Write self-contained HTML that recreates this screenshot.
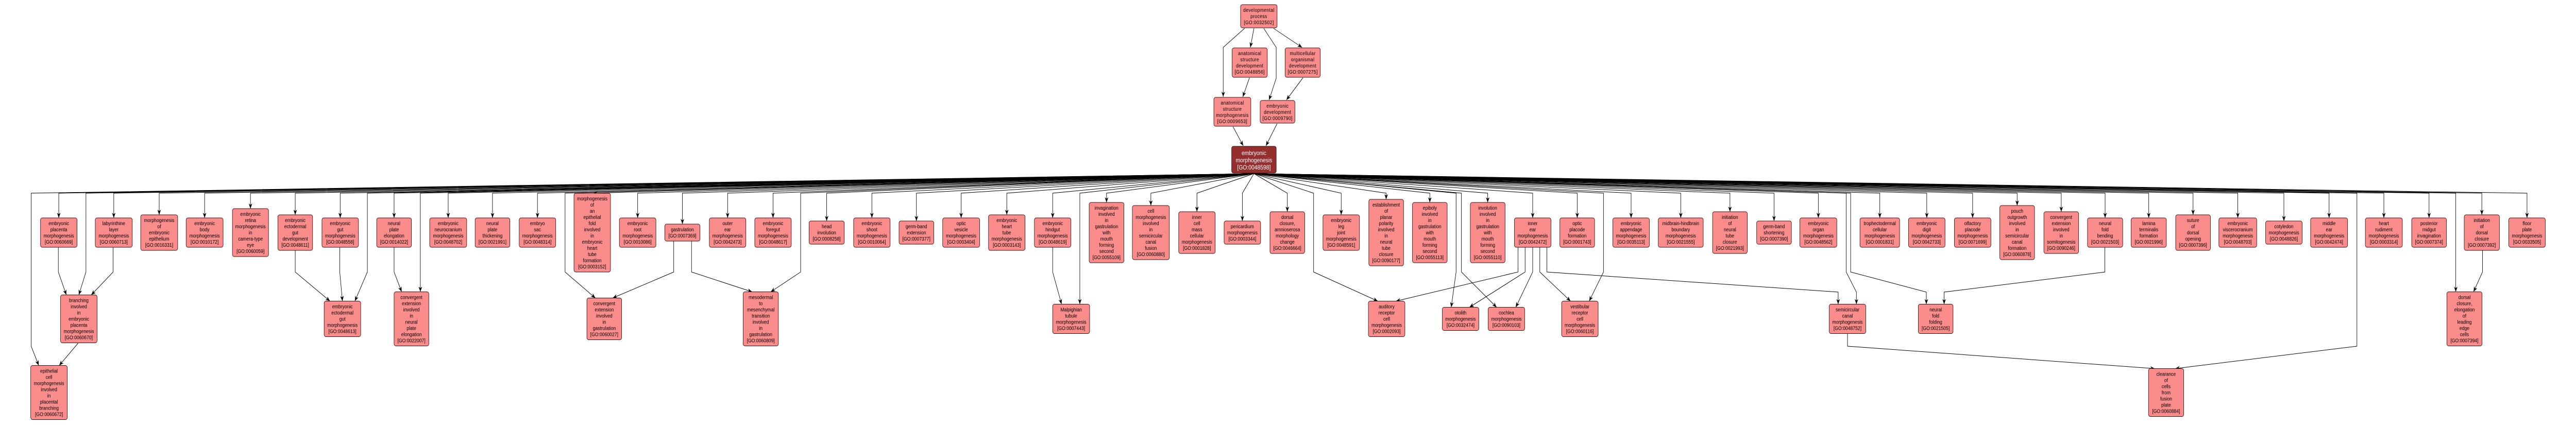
<!DOCTYPE html>
<html><head><meta charset="utf-8"><style>
html,body{margin:0;padding:0;background:#fff;overflow:hidden;width:100%;height:100%;}
svg{display:block;position:fixed;left:0;top:0;width:100vw;height:100vh;}
text{font-family:"Liberation Sans",sans-serif;font-size:10px;fill:#000;text-anchor:middle;}
.n rect{fill:#fa8c8c;stroke:#3a1010;stroke-width:1;}
.t text{letter-spacing:0.4px;}
.e{fill:none;stroke:#000;stroke-width:1;marker-end:url(#a);}
</style></head><body>
<svg viewBox="0 0 5785 825" preserveAspectRatio="none" xmlns="http://www.w3.org/2000/svg">
<defs><marker id="a" markerUnits="userSpaceOnUse" markerWidth="12" markerHeight="10" refX="10" refY="4" orient="auto"><path d="M0,0 L10,4 L0,8 L3,4 z" fill="#000"/></marker></defs>
<g>
<path class="e" d="M2795,55 L2747,92 L2747,188"/>
<path class="e" d="M2816,55 L2808,92"/>
<path class="e" d="M2838,55 L2866,92 L2866,152 L2850,194"/>
<path class="e" d="M2860,55 L2924,92"/>
<path class="e" d="M2806,151 L2791,188"/>
<path class="e" d="M2926,151 L2889,194"/>
<path class="e" d="M2769,246 L2792,283"/>
<path class="e" d="M2868,240 L2843,283"/>
<path class="e" d="M2816,337 L132,375 L132,423"/>
<path class="e" d="M2816,337 L255.5,375 L255.5,423"/>
<path class="e" d="M2816,337 L357.5,375 L357.5,417"/>
<path class="e" d="M2816,337 L459.5,375 L459.5,423"/>
<path class="e" d="M2816,337 L562.5,375 L562.5,405"/>
<path class="e" d="M2816,337 L663,375 L663,417"/>
<path class="e" d="M2816,337 L764,375 L764,423"/>
<path class="e" d="M2816,337 L885,375 L885,423"/>
<path class="e" d="M2816,337 L1006.5,375 L1006.5,423"/>
<path class="e" d="M2816,337 L1106,375 L1106,423"/>
<path class="e" d="M2816,337 L1207,375 L1207,423"/>
<path class="e" d="M2816,337 L1332,375"/>
<path class="e" d="M2816,337 L1432,375 L1432,423"/>
<path class="e" d="M2816,337 L1532.5,375 L1532.5,435"/>
<path class="e" d="M2816,337 L1634,375 L1634,423"/>
<path class="e" d="M2816,337 L1736,375 L1736,423"/>
<path class="e" d="M2816,337 L1856.5,375 L1856.5,429"/>
<path class="e" d="M2816,337 L1958,375 L1958,423"/>
<path class="e" d="M2816,337 L2058,375 L2058,429"/>
<path class="e" d="M2816,337 L2158.5,375 L2158.5,423"/>
<path class="e" d="M2816,337 L2261,375 L2261,417"/>
<path class="e" d="M2816,337 L2364,375 L2364,423"/>
<path class="e" d="M2816,337 L2485,375 L2485,393"/>
<path class="e" d="M2816,337 L2584.5,375 L2584.5,399"/>
<path class="e" d="M2816,337 L2688,375 L2688,411"/>
<path class="e" d="M2816,337 L2790,375 L2790,429"/>
<path class="e" d="M2816,337 L2891,375 L2891,411"/>
<path class="e" d="M2816,337 L3012,375 L3012,417"/>
<path class="e" d="M2816,337 L3113,375 L3113,387"/>
<path class="e" d="M2816,337 L3211,375 L3211,393"/>
<path class="e" d="M2816,337 L3341,375 L3341,393"/>
<path class="e" d="M2816,337 L3442,375 L3442,423"/>
<path class="e" d="M2816,337 L3542,375 L3542,423"/>
<path class="e" d="M2816,337 L3663,375 L3663,423"/>
<path class="e" d="M2816,337 L3774.5,375 L3774.5,423"/>
<path class="e" d="M2816,337 L3885,375 L3885,411"/>
<path class="e" d="M2816,337 L3984,375 L3984,429"/>
<path class="e" d="M2816,337 L4083.5,375 L4083.5,423"/>
<path class="e" d="M2816,337 L4221.5,375 L4221.5,423"/>
<path class="e" d="M2816,337 L4327,375 L4327,423"/>
<path class="e" d="M2816,337 L4430,375 L4430,423"/>
<path class="e" d="M2816,337 L4530,375 L4530,399"/>
<path class="e" d="M2816,337 L4629,375 L4629,411"/>
<path class="e" d="M2816,337 L4727.5,375 L4727.5,423"/>
<path class="e" d="M2816,337 L4825.5,375 L4825.5,423"/>
<path class="e" d="M2816,337 L4925,375 L4925,417"/>
<path class="e" d="M2816,337 L5025.5,375 L5025.5,423"/>
<path class="e" d="M2816,337 L5129,375 L5129,429"/>
<path class="e" d="M2816,337 L5230.5,375 L5230.5,423"/>
<path class="e" d="M2816,337 L5353.5,375 L5353.5,423"/>
<path class="e" d="M2816,337 L5455,375 L5455,423"/>
<path class="e" d="M2816,337 L5573.5,375 L5573.5,417"/>
<path class="e" d="M2816,337 L5675,375 L5675,423"/>
<path class="e" d="M2816,337 L70,375 L70,672 L87,709.5"/>
<path class="e" d="M2816,337 L193,375 L193,528 L177,572.5"/>
<path class="e" d="M2816,337 L825,375 L825,528 L797,584.5"/>
<path class="e" d="M2816,337 L944,375 L944,566.5"/>
<path class="e" d="M2816,337 L1269,375 L1269,528 L1337,578.5"/>
<path class="e" d="M2816,337 L1798,375 L1798,528 L1731,566.5"/>
<path class="e" d="M2816,337 L2425,375 L2425,590.5"/>
<path class="e" d="M2816,337 L2950,375 L2950,528 L3094,584.5"/>
<path class="e" d="M2816,337 L3270,375 L3270,528 L3259,596.5"/>
<path class="e" d="M2816,337 L3282,375 L3282,528 L3361,596.5"/>
<path class="e" d="M2816,337 L3601,375 L3601,528 L3569,584.5"/>
<path class="e" d="M2816,337 L4146,375 L4146,528 L4169,567 L4169,590.5"/>
<path class="e" d="M2816,337 L4156,375 L4156,528 L4326,567 L4326,590.5"/>
<path class="e" d="M2816,337 L5293,375 L5293,672 L4885,715.5"/>
<path class="e" d="M2816,337 L5515,375 L5515,566.5"/>
<path class="e" d="M131,480 L131,528 L149,572.5"/>
<path class="e" d="M254,480 L254,528 L205,572.5"/>
<path class="e" d="M176,665.5 L133,709.5"/>
<path class="e" d="M663,486 L663,528 L741,584.5"/>
<path class="e" d="M763,480 L763,528 L769,584.5"/>
<path class="e" d="M885,480 L885,528 L902,566.5"/>
<path class="e" d="M1513,468 L1513,528 L1376,578.5"/>
<path class="e" d="M1553,468 L1553,528 L1689,566.5"/>
<path class="e" d="M2364,480 L2364,528 L2384,590.5"/>
<path class="e" d="M3409,480 L3409,528 L3135,584.5"/>
<path class="e" d="M3425,480 L3425,528 L3300,596.5"/>
<path class="e" d="M3442,480 L3442,528 L3404,596.5"/>
<path class="e" d="M3458,480 L3458,528 L3527,584.5"/>
<path class="e" d="M3474,480 L3474,528 L4128,567 L4128,590.5"/>
<path class="e" d="M4727,480 L4727,528 L4366,567 L4366,590.5"/>
<path class="e" d="M4149,647.5 L4149,672 L4839,715.5"/>
<path class="e" d="M5575,486 L5575,528 L5555,566.5"/>
</g>

<g class="n t" transform="translate(2827,9)"><rect x="-41" y="0" width="82" height="45" rx="4"/><text y="14">developmental</text><text y="26">process</text><text y="38">[GO:0032502]</text></g>
<g class="n t" transform="translate(2806.5,93)"><rect x="-39.5" y="0" width="79" height="57" rx="4"/><text y="14">anatomical</text><text y="26">structure</text><text y="38">development</text><text y="50">[GO:0048856]</text></g>
<g class="n t" transform="translate(2925.5,93)"><rect x="-39.5" y="0" width="79" height="57" rx="4"/><text y="14">multicellular</text><text y="26">organismal</text><text y="38">development</text><text y="50">[GO:0007275]</text></g>
<g class="n t" transform="translate(2767.5,189)"><rect x="-41.5" y="0" width="83" height="56" rx="4"/><text y="14">anatomical</text><text y="26">structure</text><text y="38">morphogenesis</text><text y="50">[GO:0009653]</text></g>
<g class="n t" transform="translate(2869,195)"><rect x="-39" y="0" width="78" height="44" rx="4"/><text y="14">embryonic</text><text y="26">development</text><text y="38">[GO:0009790]</text></g>
<g transform="translate(2816,284)"><rect x="-50" y="0" width="100" height="52" rx="4" fill="#952e2e" stroke="#3a1010"/><text y="17" style="fill:#fff;font-size:12px">embryonic</text><text y="31" style="fill:#fff;font-size:12px">morphogenesis</text><text y="45" style="fill:#fff;font-size:12px">[GO:0048598]</text></g>

<g class="n" transform="translate(132,423)"><rect x="-41" width="82" height="57" rx="4"/><text y="14">embryonic</text><text y="26">placenta</text><text y="38">morphogenesis</text><text y="50">[GO:0060669]</text></g>
<g class="n" transform="translate(255.5,423)"><rect x="-41.5" width="83" height="57" rx="4"/><text y="14">labyrinthine</text><text y="26">layer</text><text y="38">morphogenesis</text><text y="50">[GO:0060713]</text></g>
<g class="n" transform="translate(357.5,417)"><rect x="-41.5" width="83" height="69" rx="4"/><text y="14">morphogenesis</text><text y="26">of</text><text y="38">embryonic</text><text y="50">epithelium</text><text y="62">[GO:0016331]</text></g>
<g class="n" transform="translate(459.5,423)"><rect x="-41.5" width="83" height="57" rx="4"/><text y="14">embryonic</text><text y="26">body</text><text y="38">morphogenesis</text><text y="50">[GO:0010172]</text></g>
<g class="n" transform="translate(562.5,405)"><rect x="-40.5" width="81" height="93" rx="4"/><text y="14">embryonic</text><text y="26">retina</text><text y="38">morphogenesis</text><text y="50">in</text><text y="62">camera-type</text><text y="74">eye</text><text y="86">[GO:0060059]</text></g>
<g class="n" transform="translate(663,417)"><rect x="-39" width="78" height="69" rx="4"/><text y="14">embryonic</text><text y="26">ectodermal</text><text y="38">gut</text><text y="50">development</text><text y="62">[GO:0048611]</text></g>
<g class="n" transform="translate(764,423)"><rect x="-41" width="82" height="57" rx="4"/><text y="14">embryonic</text><text y="26">gut</text><text y="38">morphogenesis</text><text y="50">[GO:0048558]</text></g>
<g class="n" transform="translate(885,423)"><rect x="-39" width="78" height="57" rx="4"/><text y="14">neural</text><text y="26">plate</text><text y="38">elongation</text><text y="50">[GO:0014022]</text></g>
<g class="n" transform="translate(1006.5,423)"><rect x="-41.5" width="83" height="57" rx="4"/><text y="14">embryonic</text><text y="26">neurocranium</text><text y="38">morphogenesis</text><text y="50">[GO:0048702]</text></g>
<g class="n" transform="translate(1106,423)"><rect x="-39" width="78" height="57" rx="4"/><text y="14">neural</text><text y="26">plate</text><text y="38">thickening</text><text y="50">[GO:0021991]</text></g>
<g class="n" transform="translate(1207,423)"><rect x="-41" width="82" height="57" rx="4"/><text y="14">embryo</text><text y="26">sac</text><text y="38">morphogenesis</text><text y="50">[GO:0048314]</text></g>
<g class="n" transform="translate(1330,375)"><rect x="-41" width="82" height="153" rx="4"/><text y="14">morphogenesis</text><text y="26">of</text><text y="38">an</text><text y="50">epithelial</text><text y="62">fold</text><text y="74">involved</text><text y="86">in</text><text y="98">embryonic</text><text y="110">heart</text><text y="122">tube</text><text y="134">formation</text><text y="146">[GO:0003152]</text></g>
<g class="n" transform="translate(1432,423)"><rect x="-41" width="82" height="57" rx="4"/><text y="14">embryonic</text><text y="26">root</text><text y="38">morphogenesis</text><text y="50">[GO:0010086]</text></g>
<g class="n" transform="translate(1532.5,435)"><rect x="-39.5" width="79" height="33" rx="4"/><text y="14">gastrulation</text><text y="26">[GO:0007369]</text></g>
<g class="n" transform="translate(1634,423)"><rect x="-41" width="82" height="57" rx="4"/><text y="14">outer</text><text y="26">ear</text><text y="38">morphogenesis</text><text y="50">[GO:0042473]</text></g>
<g class="n" transform="translate(1736,423)"><rect x="-41" width="82" height="57" rx="4"/><text y="14">embryonic</text><text y="26">foregut</text><text y="38">morphogenesis</text><text y="50">[GO:0048617]</text></g>
<g class="n" transform="translate(1856.5,429)"><rect x="-39.5" width="79" height="45" rx="4"/><text y="14">head</text><text y="26">involution</text><text y="38">[GO:0008258]</text></g>
<g class="n" transform="translate(1958,423)"><rect x="-41" width="82" height="57" rx="4"/><text y="14">embryonic</text><text y="26">shoot</text><text y="38">morphogenesis</text><text y="50">[GO:0010064]</text></g>
<g class="n" transform="translate(2058,429)"><rect x="-39" width="78" height="45" rx="4"/><text y="14">germ-band</text><text y="26">extension</text><text y="38">[GO:0007377]</text></g>
<g class="n" transform="translate(2158.5,423)"><rect x="-41.5" width="83" height="57" rx="4"/><text y="14">optic</text><text y="26">vesicle</text><text y="38">morphogenesis</text><text y="50">[GO:0003404]</text></g>
<g class="n" transform="translate(2261,417)"><rect x="-41" width="82" height="69" rx="4"/><text y="14">embryonic</text><text y="26">heart</text><text y="38">tube</text><text y="50">morphogenesis</text><text y="62">[GO:0003143]</text></g>
<g class="n" transform="translate(2364,423)"><rect x="-41" width="82" height="57" rx="4"/><text y="14">embryonic</text><text y="26">hindgut</text><text y="38">morphogenesis</text><text y="50">[GO:0048619]</text></g>
<g class="n" transform="translate(2485,393)"><rect x="-39" width="78" height="117" rx="4"/><text y="14">invagination</text><text y="26">involved</text><text y="38">in</text><text y="50">gastrulation</text><text y="62">with</text><text y="74">mouth</text><text y="86">forming</text><text y="98">second</text><text y="110">[GO:0055109]</text></g>
<g class="n" transform="translate(2584.5,399)"><rect x="-41.5" width="83" height="105" rx="4"/><text y="14">cell</text><text y="26">morphogenesis</text><text y="38">involved</text><text y="50">in</text><text y="62">semicircular</text><text y="74">canal</text><text y="86">fusion</text><text y="98">[GO:0060880]</text></g>
<g class="n" transform="translate(2688,411)"><rect x="-41" width="82" height="81" rx="4"/><text y="14">inner</text><text y="26">cell</text><text y="38">mass</text><text y="50">cellular</text><text y="62">morphogenesis</text><text y="74">[GO:0001828]</text></g>
<g class="n" transform="translate(2790,429)"><rect x="-41" width="82" height="45" rx="4"/><text y="14">pericardium</text><text y="26">morphogenesis</text><text y="38">[GO:0003344]</text></g>
<g class="n" transform="translate(2891,411)"><rect x="-39" width="78" height="81" rx="4"/><text y="14">dorsal</text><text y="26">closure,</text><text y="38">amnioserosa</text><text y="50">morphology</text><text y="62">change</text><text y="74">[GO:0046664]</text></g>
<g class="n" transform="translate(3012,417)"><rect x="-41" width="82" height="69" rx="4"/><text y="14">embryonic</text><text y="26">leg</text><text y="38">joint</text><text y="50">morphogenesis</text><text y="62">[GO:0048591]</text></g>
<g class="n" transform="translate(3113,387)"><rect x="-39" width="78" height="129" rx="4"/><text y="14">establishment</text><text y="26">of</text><text y="38">planar</text><text y="50">polarity</text><text y="62">involved</text><text y="74">in</text><text y="86">neural</text><text y="98">tube</text><text y="110">closure</text><text y="122">[GO:0090177]</text></g>
<g class="n" transform="translate(3211,393)"><rect x="-39" width="78" height="117" rx="4"/><text y="14">epiboly</text><text y="26">involved</text><text y="38">in</text><text y="50">gastrulation</text><text y="62">with</text><text y="74">mouth</text><text y="86">forming</text><text y="98">second</text><text y="110">[GO:0055113]</text></g>
<g class="n" transform="translate(3341,393)"><rect x="-39" width="78" height="117" rx="4"/><text y="14">involution</text><text y="26">involved</text><text y="38">in</text><text y="50">gastrulation</text><text y="62">with</text><text y="74">mouth</text><text y="86">forming</text><text y="98">second</text><text y="110">[GO:0055110]</text></g>
<g class="n" transform="translate(3442,423)"><rect x="-41" width="82" height="57" rx="4"/><text y="14">inner</text><text y="26">ear</text><text y="38">morphogenesis</text><text y="50">[GO:0042472]</text></g>
<g class="n" transform="translate(3542,423)"><rect x="-39" width="78" height="57" rx="4"/><text y="14">optic</text><text y="26">placode</text><text y="38">formation</text><text y="50">[GO:0001743]</text></g>
<g class="n" transform="translate(3663,423)"><rect x="-41" width="82" height="57" rx="4"/><text y="14">embryonic</text><text y="26">appendage</text><text y="38">morphogenesis</text><text y="50">[GO:0035113]</text></g>
<g class="n" transform="translate(3774.5,423)"><rect x="-50.5" width="101" height="57" rx="4"/><text y="14">midbrain-hindbrain</text><text y="26">boundary</text><text y="38">morphogenesis</text><text y="50">[GO:0021555]</text></g>
<g class="n" transform="translate(3885,411)"><rect x="-39" width="78" height="81" rx="4"/><text y="14">initiation</text><text y="26">of</text><text y="38">neural</text><text y="50">tube</text><text y="62">closure</text><text y="74">[GO:0021993]</text></g>
<g class="n" transform="translate(3984,429)"><rect x="-39" width="78" height="45" rx="4"/><text y="14">germ-band</text><text y="26">shortening</text><text y="38">[GO:0007390]</text></g>
<g class="n" transform="translate(4083.5,423)"><rect x="-41.5" width="83" height="57" rx="4"/><text y="14">embryonic</text><text y="26">organ</text><text y="38">morphogenesis</text><text y="50">[GO:0048562]</text></g>
<g class="n" transform="translate(4221.5,423)"><rect x="-44.5" width="89" height="57" rx="4"/><text y="14">trophectodermal</text><text y="26">cellular</text><text y="38">morphogenesis</text><text y="50">[GO:0001831]</text></g>
<g class="n" transform="translate(4327,423)"><rect x="-41" width="82" height="57" rx="4"/><text y="14">embryonic</text><text y="26">digit</text><text y="38">morphogenesis</text><text y="50">[GO:0042733]</text></g>
<g class="n" transform="translate(4430,423)"><rect x="-41" width="82" height="57" rx="4"/><text y="14">olfactory</text><text y="26">placode</text><text y="38">morphogenesis</text><text y="50">[GO:0071699]</text></g>
<g class="n" transform="translate(4530,399)"><rect x="-39" width="78" height="105" rx="4"/><text y="14">pouch</text><text y="26">outgrowth</text><text y="38">involved</text><text y="50">in</text><text y="62">semicircular</text><text y="74">canal</text><text y="86">formation</text><text y="98">[GO:0060878]</text></g>
<g class="n" transform="translate(4629,411)"><rect x="-39" width="78" height="81" rx="4"/><text y="14">convergent</text><text y="26">extension</text><text y="38">involved</text><text y="50">in</text><text y="62">somitogenesis</text><text y="74">[GO:0090246]</text></g>
<g class="n" transform="translate(4727.5,423)"><rect x="-39.5" width="79" height="57" rx="4"/><text y="14">neural</text><text y="26">fold</text><text y="38">bending</text><text y="50">[GO:0021503]</text></g>
<g class="n" transform="translate(4825.5,423)"><rect x="-39.5" width="79" height="57" rx="4"/><text y="14">lamina</text><text y="26">terminalis</text><text y="38">formation</text><text y="50">[GO:0021996]</text></g>
<g class="n" transform="translate(4925,417)"><rect x="-39" width="78" height="69" rx="4"/><text y="14">suture</text><text y="26">of</text><text y="38">dorsal</text><text y="50">opening</text><text y="62">[GO:0007396]</text></g>
<g class="n" transform="translate(5025.5,423)"><rect x="-42.5" width="85" height="57" rx="4"/><text y="14">embryonic</text><text y="26">viscerocranium</text><text y="38">morphogenesis</text><text y="50">[GO:0048703]</text></g>
<g class="n" transform="translate(5129,429)"><rect x="-41" width="82" height="45" rx="4"/><text y="14">cotyledon</text><text y="26">morphogenesis</text><text y="38">[GO:0048826]</text></g>
<g class="n" transform="translate(5230.5,423)"><rect x="-41.5" width="83" height="57" rx="4"/><text y="14">middle</text><text y="26">ear</text><text y="38">morphogenesis</text><text y="50">[GO:0042474]</text></g>
<g class="n" transform="translate(5353.5,423)"><rect x="-41.5" width="83" height="57" rx="4"/><text y="14">heart</text><text y="26">rudiment</text><text y="38">morphogenesis</text><text y="50">[GO:0003314]</text></g>
<g class="n" transform="translate(5455,423)"><rect x="-39" width="78" height="57" rx="4"/><text y="14">posterior</text><text y="26">midgut</text><text y="38">invagination</text><text y="50">[GO:0007374]</text></g>
<g class="n" transform="translate(5573.5,417)"><rect x="-39.5" width="79" height="69" rx="4"/><text y="14">initiation</text><text y="26">of</text><text y="38">dorsal</text><text y="50">closure</text><text y="62">[GO:0007392]</text></g>
<g class="n" transform="translate(5675,423)"><rect x="-41" width="82" height="57" rx="4"/><text y="14">floor</text><text y="26">plate</text><text y="38">morphogenesis</text><text y="50">[GO:0033505]</text></g>

<g class="n" transform="translate(177,572.5)"><rect x="-41" width="82" height="93" rx="4"/><text y="14">branching</text><text y="26">involved</text><text y="38">in</text><text y="50">embryonic</text><text y="62">placenta</text><text y="74">morphogenesis</text><text y="86">[GO:0060670]</text></g>
<g class="n" transform="translate(769,584.5)"><rect x="-41" width="82" height="69" rx="4"/><text y="14">embryonic</text><text y="26">ectodermal</text><text y="38">gut</text><text y="50">morphogenesis</text><text y="62">[GO:0048613]</text></g>
<g class="n" transform="translate(924,566.5)"><rect x="-39" width="78" height="105" rx="4"/><text y="14">convergent</text><text y="26">extension</text><text y="38">involved</text><text y="50">in</text><text y="62">neural</text><text y="74">plate</text><text y="86">elongation</text><text y="98">[GO:0022007]</text></g>
<g class="n" transform="translate(1357,578.5)"><rect x="-39" width="78" height="81" rx="4"/><text y="14">convergent</text><text y="26">extension</text><text y="38">involved</text><text y="50">in</text><text y="62">gastrulation</text><text y="74">[GO:0060027]</text></g>
<g class="n" transform="translate(1708.5,566.5)"><rect x="-39.5" width="79" height="105" rx="4"/><text y="14">mesodermal</text><text y="26">to</text><text y="38">mesenchymal</text><text y="50">transition</text><text y="62">involved</text><text y="74">in</text><text y="86">gastrulation</text><text y="98">[GO:0060809]</text></g>
<g class="n" transform="translate(2405.5,590.5)"><rect x="-41.5" width="83" height="57" rx="4"/><text y="14">Malpighian</text><text y="26">tubule</text><text y="38">morphogenesis</text><text y="50">[GO:0007443]</text></g>
<g class="n" transform="translate(3114,584.5)"><rect x="-41" width="82" height="69" rx="4"/><text y="14">auditory</text><text y="26">receptor</text><text y="38">cell</text><text y="50">morphogenesis</text><text y="62">[GO:0002093]</text></g>
<g class="n" transform="translate(3280,596.5)"><rect x="-41" width="82" height="45" rx="4"/><text y="14">otolith</text><text y="26">morphogenesis</text><text y="38">[GO:0032474]</text></g>
<g class="n" transform="translate(3383,596.5)"><rect x="-41" width="82" height="45" rx="4"/><text y="14">cochlea</text><text y="26">morphogenesis</text><text y="38">[GO:0090103]</text></g>
<g class="n" transform="translate(3548,584.5)"><rect x="-41" width="82" height="69" rx="4"/><text y="14">vestibular</text><text y="26">receptor</text><text y="38">cell</text><text y="50">morphogenesis</text><text y="62">[GO:0060116]</text></g>
<g class="n" transform="translate(4149,590.5)"><rect x="-41" width="82" height="57" rx="4"/><text y="14">semicircular</text><text y="26">canal</text><text y="38">morphogenesis</text><text y="50">[GO:0048752]</text></g>
<g class="n" transform="translate(4347,590.5)"><rect x="-39" width="78" height="57" rx="4"/><text y="14">neural</text><text y="26">fold</text><text y="38">folding</text><text y="50">[GO:0021505]</text></g>
<g class="n" transform="translate(5534.5,566.5)"><rect x="-39.5" width="79" height="105" rx="4"/><text y="14">dorsal</text><text y="26">closure,</text><text y="38">elongation</text><text y="50">of</text><text y="62">leading</text><text y="74">edge</text><text y="86">cells</text><text y="98">[GO:0007394]</text></g>

<g class="n" transform="translate(110,709.5)"><rect x="-41" width="82" height="105" rx="4"/><text y="14">epithelial</text><text y="26">cell</text><text y="38">morphogenesis</text><text y="50">involved</text><text y="62">in</text><text y="74">placental</text><text y="86">branching</text><text y="98">[GO:0060672]</text></g>
<g class="n" transform="translate(4864.5,715.5)"><rect x="-39.5" width="79" height="93" rx="4"/><text y="14">clearance</text><text y="26">of</text><text y="38">cells</text><text y="50">from</text><text y="62">fusion</text><text y="74">plate</text><text y="86">[GO:0060884]</text></g>
</svg>
</body></html>
